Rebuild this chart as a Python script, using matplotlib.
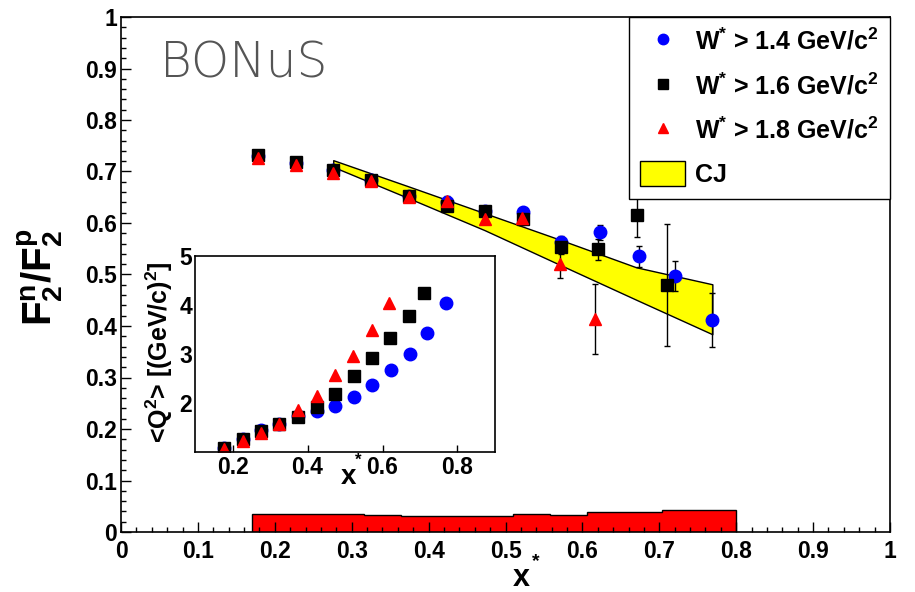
import matplotlib
matplotlib.use("Agg")
import matplotlib.pyplot as plt
from matplotlib.lines import Line2D
from matplotlib.patches import Patch
from matplotlib.ticker import MultipleLocator, FuncFormatter

plt.rcParams['font.family'] = 'Liberation Sans'
plt.rcParams['font.weight'] = 'bold'
plt.rcParams['mathtext.fontset'] = 'custom'
plt.rcParams['mathtext.rm'] = 'Liberation Sans:bold'
plt.rcParams['mathtext.bf'] = 'Liberation Sans:bold'
plt.rcParams['mathtext.it'] = 'Liberation Sans:bold'
plt.rcParams['mathtext.default'] = 'bf'

# F2n/F2p ratio for the three W* cuts
x_w14 = [0.178, 0.227, 0.276, 0.325, 0.375, 0.424, 0.473, 0.523, 0.572, 0.623, 0.673, 0.720, 0.769]
r_w14 = [0.731, 0.717, 0.702, 0.683, 0.652, 0.640, 0.624, 0.621, 0.564, 0.582, 0.535, 0.497, 0.412]
e_w14 = [0.006, 0.006, 0.006, 0.006, 0.007, 0.007, 0.008, 0.009, 0.011, 0.015, 0.020, 0.030, 0.052]

x_w16 = [0.178, 0.227, 0.276, 0.325, 0.375, 0.424, 0.473, 0.523, 0.572, 0.620, 0.671, 0.710]
r_w16 = [0.732, 0.718, 0.703, 0.683, 0.652, 0.633, 0.624, 0.608, 0.553, 0.549, 0.616, 0.480]
e_w16 = [0.006, 0.006, 0.006, 0.006, 0.007, 0.008, 0.009, 0.010, 0.014, 0.020, 0.044, 0.118]

x_w18 = [0.178, 0.227, 0.276, 0.325, 0.375, 0.424, 0.473, 0.522, 0.571, 0.616]
r_w18 = [0.727, 0.713, 0.697, 0.681, 0.650, 0.643, 0.608, 0.609, 0.520, 0.413]
e_w18 = [0.006, 0.006, 0.007, 0.007, 0.008, 0.009, 0.010, 0.012, 0.027, 0.068]

# mean Q2 per bin (inset)
q2_w14 = [1.08, 1.26, 1.44, 1.58, 1.73, 1.83, 1.93, 2.12, 2.37, 2.68, 3.00, 3.43, 4.05]
q2_w16 = [1.09, 1.27, 1.43, 1.57, 1.72, 1.91, 2.18, 2.56, 2.92, 3.32, 3.78, 4.25]
q2_w18 = [1.06, 1.23, 1.38, 1.57, 1.86, 2.14, 2.58, 2.95, 3.50, 4.04]

# CJ band
cj_x = [0.276, 0.376, 0.473, 0.572, 0.670, 0.769]
cj_hi = [0.722, 0.670, 0.619, 0.567, 0.514, 0.481]
cj_lo = [0.709, 0.647, 0.586, 0.518, 0.451, 0.384]

# systematic uncertainty band
sys_edges = [0.170, 0.2185, 0.267, 0.3155, 0.364, 0.4125, 0.461, 0.5095, 0.558, 0.6065, 0.655, 0.7035, 0.752, 0.800]
sys_err = [0.0355, 0.0345, 0.034, 0.0335, 0.032, 0.032, 0.032, 0.0345, 0.033, 0.038, 0.0395, 0.0425, 0.042]

fig = plt.figure(figsize=(9.15, 5.92), dpi=100)
ax = fig.add_axes([121/915, 60/592, 769/915, 515/592])

ax.stairs(sys_err, sys_edges, fill=True, facecolor='red', edgecolor='black', linewidth=1)
ax.fill_between(cj_x, cj_lo, cj_hi, facecolor='yellow', edgecolor='black', linewidth=1)

ms = 9
eb = dict(ecolor='black', elinewidth=1, capsize=2.5, capthick=1, linestyle='none')
ax.errorbar(x_w14, r_w14, yerr=e_w14, marker='o', ms=ms, color='blue', **eb)
ax.errorbar(x_w16, r_w16, yerr=e_w16, marker='s', ms=ms - 0.6, color='black', **eb)
ax.errorbar(x_w18, r_w18, yerr=e_w18, marker='^', ms=ms, color='red', **eb)

ax.set_xlim(0, 1)
ax.set_ylim(0, 1)
fmt = FuncFormatter(lambda v, p: f'{v:g}')
for axis in (ax.xaxis, ax.yaxis):
    axis.set_major_locator(MultipleLocator(0.1))
    axis.set_minor_locator(MultipleLocator(0.02))
    axis.set_major_formatter(fmt)
ax.tick_params(which='both', direction='in', top=False, right=False, width=1, labelsize=16.5)
ax.tick_params(which='major', length=7)
ax.tick_params(which='minor', length=3.5)
ax.tick_params(axis='x', pad=5.5)
ax.tick_params(axis='y', pad=3)
for s in ax.spines.values():
    s.set_linewidth(1.2)

ax.text(0.521, -0.089, 'x', transform=ax.transAxes, ha='center', va='center', fontsize=22)
ax.text(0.539, -0.0577, '*', transform=ax.transAxes, ha='center', va='center', fontsize=14)
ax.text(-0.105, 0.495, '$F_{2}^{n}/F_{2}^{p}$', transform=ax.transAxes, rotation=90,
        ha='center', va='center', fontsize=29)

ax.text(0.051, 0.883, 'BONuS', transform=ax.transAxes, fontsize=35, color='#555555',
        family='DejaVu Sans', fontweight='light', va='baseline')

handles = [
    Line2D([], [], marker='o', color='blue', ls='none', ms=7.5),
    Line2D([], [], marker='s', color='black', ls='none', ms=7),
    Line2D([], [], marker='^', color='red', ls='none', ms=7.5),
    Patch(facecolor='yellow', edgecolor='black', linewidth=1),
]
labels = ['W$^{*}$ > 1.4 GeV/c$^{2}$', 'W$^{*}$ > 1.6 GeV/c$^{2}$',
          'W$^{*}$ > 1.8 GeV/c$^{2}$', 'CJ']
leg = ax.legend(handles, labels, loc='upper right', bbox_to_anchor=(1, 1), borderaxespad=0,
                fontsize=18, fancybox=False, framealpha=1, edgecolor='black',
                handlelength=1.8, handleheight=1.15, handletextpad=0.4,
                labelspacing=0.72, borderpad=0.45)
leg.get_frame().set_linewidth(1)

# inset: mean Q2 vs x*
axin = fig.add_axes([195/915, 140/592, 300/915, 196/592])
axin.errorbar(x_w14, q2_w14, marker='o', ms=ms, color='blue', linestyle='none')
axin.errorbar(x_w16, q2_w16, marker='s', ms=ms - 0.6, color='black', linestyle='none')
axin.errorbar(x_w18, q2_w18, marker='^', ms=ms, color='red', linestyle='none')
axin.set_xlim(0.1, 0.9)
axin.set_ylim(1, 5)
axin.set_xticks([0.2, 0.4, 0.6, 0.8])
axin.set_yticks([2, 3, 4, 5])
axin.xaxis.set_major_formatter(fmt)
axin.tick_params(direction='in', labelsize=16.5, width=1)
axin.tick_params(axis='x', length=5, pad=3)
axin.tick_params(axis='y', length=0, pad=2)
for s in axin.spines.values():
    s.set_linewidth(1.2)
axin.text(0.513, -0.13, 'x', transform=axin.transAxes, ha='center', va='center', fontsize=20)
axin.text(0.544, -0.041, '*', transform=axin.transAxes, ha='center', va='center', fontsize=12)
axin.text(-0.12, 0.51, '<Q$^{2}$> [(GeV/c)$^{2}$]', transform=axin.transAxes, rotation=90,
          ha='center', va='center', fontsize=18)

fig.savefig('out.png', dpi=100)
